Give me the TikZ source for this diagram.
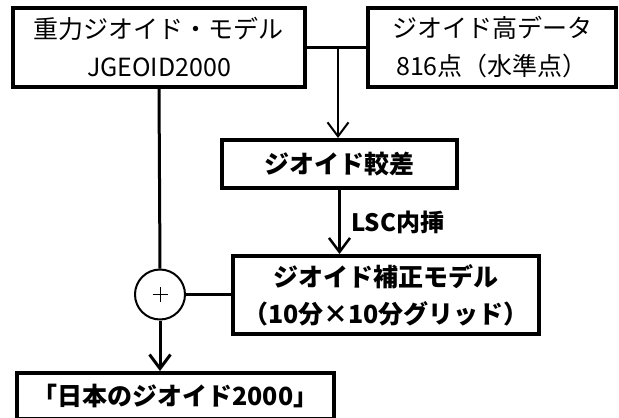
\documentclass[tikz,border=0pt]{standalone}
\usepackage{fontspec}
\setmainfont{Noto Sans CJK JP}
\usetikzlibrary{arrows.meta}
\tikzset{
  box/.style={draw, line width=4pt, inner sep=0pt, align=center},
  thinbox/.style={box, font=\fontsize{25}{38}\selectfont},
  boldbox/.style={box, font=\fontsize{25}{37}\selectfont\bfseries},
  conn/.style={line width=3pt},
  barb/.style={-{Straight Barb[length=14pt,width=21pt]}},
}
\begin{document}
\begin{tikzpicture}[x=1pt,y=-1pt]
\useasboundingbox[fill=white] (0,0) rectangle (619,418);
\node[thinbox, minimum width=292pt, minimum height=79pt] (b1) at (159,47.5) {重力ジオイド・モデル\\JGEOID2000};
\node[thinbox, minimum width=248pt, minimum height=79pt] (b2) at (492,47.5) {ジオイド高データ\\816点（水準点）};
\node[boldbox, minimum width=235pt, minimum height=48pt] (b3) at (339.5,164) {ジオイド較差};
\node[boldbox, minimum width=306pt, minimum height=78pt] (b4) at (386,295) {ジオイド補正モデル\\（10分×10分グリッド）};
\node[boldbox, minimum width=317pt, minimum height=46pt] (b5) at (175.5,396) {「日本のジオイド2000」};
\node[draw, circle, line width=2pt, minimum size=50pt, inner sep=0pt] (c) at (160,294.5) {};
\node[anchor=west, font=\fontsize{24}{28}\selectfont\bfseries, inner sep=0pt] (lsc) at (351,222) {LSC内挿};
\coordinate (j) at (338,47.5);
% connectors
\draw[conn] (b1.east) -- (b2.west);
\draw[line width=2pt, barb] (j) -- (j |- b3.north);
\draw[line width=2.5pt, barb] (b3.south) -- (b3.south |- b4.north);
\draw[conn] (b1.south) -- (c.north);
\draw[conn] (c.east) -- (c.east -| b4.west);
\draw[conn, barb] (c.south) -- (c.south |- b5.north);
% plus sign
\draw[line width=1pt] (c.center) +(-7.5,0) -- +(7.5,0);
\draw[line width=1pt] (c.center) +(0,-7.5) -- +(0,7.5);
\end{tikzpicture}
\end{document}
